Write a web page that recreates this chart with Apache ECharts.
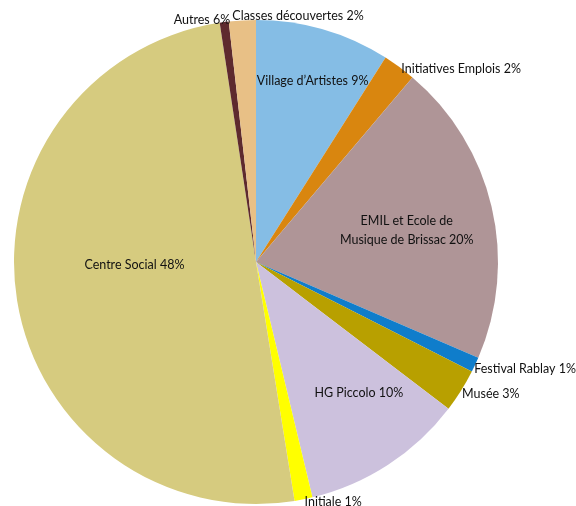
<!DOCTYPE html>
<html lang="fr">
<head>
    <meta charset="UTF-8">
    <title>Répartition</title>
    <style>
        html,body{margin:0;padding:0;background:#fff;}
        #chart{width:576px;height:506px;}
    </style>
</head>
<body>
    <div id="chart"></div>
    <script src="https://cdn.jsdelivr.net/npm/echarts@6/dist/echarts.min.js"></script>
    <script>
        // slices clockwise from the top
        let names=['Village d\u2019Artistes','Initiatives Emplois','EMIL et Ecole de\nMusique de Brissac','Festival Rablay','Musée','HG Piccolo','Initiale','Centre Social','Autres','Classes découvertes'];
        let values=[9.0,2.2,20.3,1.0,2.9,10.9,1.2,50.2,0.6,1.8];
        let pctLabels=['9%','2%','20%','1%','3%','10%','1%','48%','6%','2%'];
        let colors=['#85bde5','#d9860f','#af9597','#0f7dcb','#b8a000','#ccc1dd','#ffff00','#d6cb7f','#5e2a2e','#e8c086'];

        // label placement: radius fraction, alignment, pixel nudge
        let labelR=[0.78,1.0,0.64,1.0,1.0,0.68,1.0,0.45,1.0,1.0];
        let labelAlign=['center','left','center','left','left','center','left','center','right','left'];
        let labelNudge=[[4,0],[2,2],[0,4],[-1,4],[1,3],[13,-7],[1,3],[-14,-14],[6,-2],[-10,-4]];

        let cx=256,cy=262,R=242;
        let total=values.reduce((a,b)=>a+b,0);
        let midAngles=[];
        let acc=0;
        values.forEach((v)=>{
            midAngles.push((acc+v/2)/total*Math.PI*2);
            acc+=v;
        });

        let data=names.map((n,i)=>({
            name:n,
            value:values[i],
            itemStyle:{color:colors[i]},
        }));

        let chart=echarts.init(document.getElementById('chart'));
        chart.setOption({
            animation:false,
            series:[{
                type:'pie',
                center:[cx,cy],
                radius:R,
                startAngle:90,
                clockwise:true,
                avoidLabelOverlap:false,
                itemStyle:{borderWidth:0},
                label:{
                    show:true,
                    position:'inside',
                    fontFamily:'Lato',
                    fontSize:12.5,
                    color:'#111',
                    lineHeight:19,
                    formatter:(p)=>p.name+' '+pctLabels[p.dataIndex],
                },
                labelLine:{show:false},
                labelLayout:(p)=>{
                    let i=p.dataIndex;
                    let a=midAngles[i];
                    let r=R*labelR[i];
                    return {
                        x:cx+r*Math.sin(a)+labelNudge[i][0],
                        y:cy-r*Math.cos(a)+labelNudge[i][1],
                        align:labelAlign[i],
                        verticalAlign:'middle',
                    };
                },
                data,
            }],
        });
    </script>
</body>
</html>
